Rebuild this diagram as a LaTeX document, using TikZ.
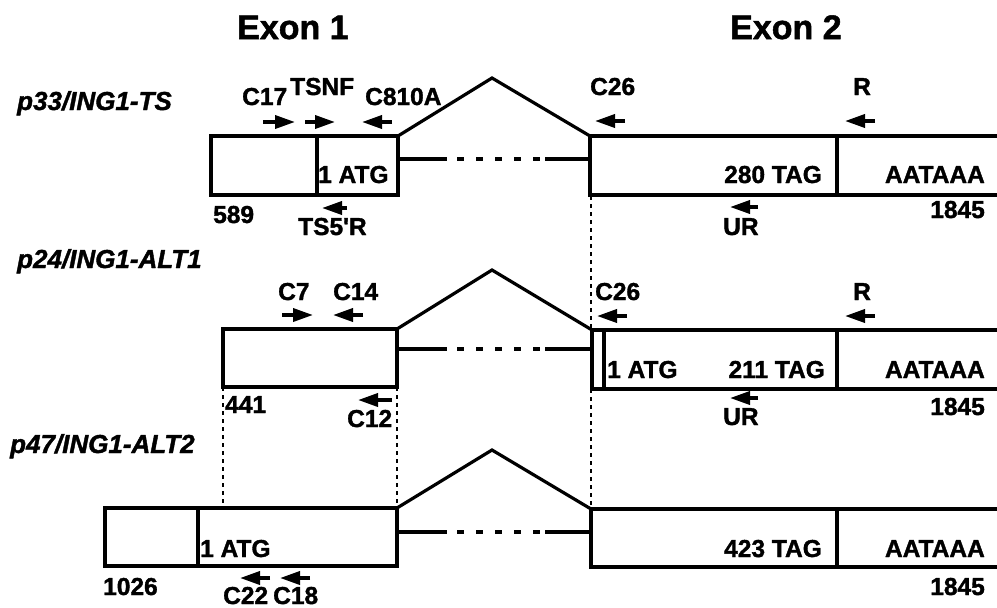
\documentclass[tikz,border=0pt]{standalone}
\usepackage{fontspec}
\setmainfont{Liberation Sans}[BoldFeatures={FakeBold=1.5}, BoldItalicFeatures={FakeBold=1.5}]
\usetikzlibrary{arrows.meta}

\begin{document}
\begin{tikzpicture}[x=1pt, y=-1pt,
    exonbox/.style={line width=3.4pt},
    intron/.style={line width=3.2pt},
    guide/.style={line width=1.4pt, dash pattern=on 4pt off 4pt},
    primer/.style={line width=3.6pt, -{Triangle[length=20pt,width=13pt]}},
    lbl/.style={inner sep=0pt, anchor=base west, font=\fontsize{24.5}{24.5}\selectfont\bfseries},
    lble/.style={lbl, anchor=base east},
    title/.style={inner sep=0pt, anchor=base west, font=\fontsize{34}{34}\selectfont\bfseries},
    rowname/.style={inner sep=0pt, anchor=base west, font=\fontsize{26}{26}\selectfont\bfseries\itshape}]
    \useasboundingbox (0,0) rectangle (997,608);

    \node[title] (ex1) at (237,39) {Exon 1};
    \node[title] (ex2) at (730,39) {Exon 2};

    % p33/ING1-TS
    \node[rowname] (ts) at (17,110) {p33/ING1-TS};
    \draw[exonbox] (211,136) rectangle (398,195);
    \draw[exonbox] (317,136) -- (317,195);
    \draw[exonbox] (997,136) -- (590,136) -- (590,195) -- (997,195);
    \draw[exonbox] (837,136) -- (837,195);
    \coordinate (tsa) at (398,136);
    \coordinate (tsp) at (492,78);
    \coordinate (tsb) at (590,136);
    \draw[intron] (tsa) -- (tsp) -- (tsb);
    \draw[intron] (398,159) -- (447,159);
    \draw[intron, dash pattern=on 7pt off 12pt] (457,159) -- (540,159);
    \draw[intron] (545,159) -- (590,159);
    \draw[primer] (263,122) -- (295,122);
    \draw[primer] (305,122) -- (335,122);
    \draw[primer] (392,122) -- (362,122);
    \draw[primer] (347,208) -- (322,208);
    \draw[primer] (625,121) -- (595,121);
    \draw[primer] (875,121) -- (845,121);
    \draw[primer] (758,207) -- (730,207);
    \node[lbl] (c17) at (242,105) {C17};
    \node[lbl] (tsnf) at (290,95) {TSNF};
    \node[lbl] (c810a) at (365,105) {C810A};
    \node[lbl] (atgA) at (318,183) {1 ATG};
    \node[lbl] (n589) at (213,223) {589};
    \node[lbl] (ts5r) at (298,235) {TS5\textquotesingle R};
    \node[lbl] (c26A) at (590,95) {C26};
    \node[lbl] (rA) at (853,95) {R};
    \node[lble] (tagA) at (822,183) {280 TAG};
    \node[lble] (polyA) at (985,183) {AATAAA};
    \node[lble] (endA) at (985,218) {1845};
    \node[lbl] (urA) at (723,235) {UR};

    % p24/ING1-ALT1
    \node[rowname] (alt1) at (17,268) {p24/ING1-ALT1};
    \draw[exonbox] (223,329) rectangle (397,387);
    \draw[exonbox] (997,330) -- (592,330) -- (592,389) -- (997,389);
    \draw[exonbox] (604,330) -- (604,389);
    \draw[exonbox] (837,330) -- (837,389);
    \coordinate (aa) at (397,329);
    \coordinate (ap) at (492,270);
    \coordinate (ab) at (592,330);
    \draw[intron] (aa) -- (ap) -- (ab);
    \draw[intron] (397,349) -- (447,349);
    \draw[intron, dash pattern=on 7pt off 12pt] (457,349) -- (540,349);
    \draw[intron] (545,349) -- (592,349);
    \draw[primer] (282,315) -- (313,315);
    \draw[primer] (363,315) -- (333,315);
    \draw[primer] (392,400) -- (358,400);
    \draw[primer] (627,316) -- (597,316);
    \draw[primer] (875,316) -- (845,316);
    \draw[primer] (758,398) -- (730,398);
    \node[lbl] (c7) at (278,300) {C7};
    \node[lbl] (c14) at (333,300) {C14};
    \node[lbl] (n441) at (225,413) {441};
    \node[lbl] (c12) at (347,427) {C12};
    \node[lbl] (c26B) at (595,300) {C26};
    \node[lbl] (rB) at (853,300) {R};
    \node[lbl] (atgB) at (607,378) {1 ATG};
    \node[lble] (tagB) at (825,378) {211 TAG};
    \node[lble] (polyB) at (985,378) {AATAAA};
    \node[lble] (endB) at (985,415) {1845};
    \node[lbl] (urB) at (723,425) {UR};

    % p47/ING1-ALT2
    \node[rowname] (alt2) at (10,453) {p47/ING1-ALT2};
    \draw[exonbox] (105,508) rectangle (397,566);
    \draw[exonbox] (198,508) -- (198,566);
    \draw[exonbox] (997,509) -- (591,509) -- (591,567) -- (997,567);
    \draw[exonbox] (837,509) -- (837,567);
    \coordinate (ba) at (397,508);
    \coordinate (bp) at (492,450);
    \coordinate (bb) at (591,509);
    \draw[intron] (ba) -- (bp) -- (bb);
    \draw[intron] (397,532) -- (447,532);
    \draw[intron, dash pattern=on 7pt off 12pt] (457,532) -- (540,532);
    \draw[intron] (545,532) -- (591,532);
    \draw[primer] (270,578) -- (240,578);
    \draw[primer] (310,578) -- (280,578);
    \node[lbl] (atgC) at (200,557) {1 ATG};
    \node[lbl] (n1026) at (103,595) {1026};
    \node[lbl] (c22) at (223,604) {C22};
    \node[lbl] (c18) at (273,604) {C18};
    \node[lble] (tagC) at (822,557) {423 TAG};
    \node[lble] (polyC) at (985,557) {AATAAA};
    \node[lble] (endC) at (985,595) {1845};

    % alignment guides
    \draw[guide] (591,196) -- (591,330);
    \draw[guide] (591,389) -- (591,509);
    \draw[guide] (223,387) -- (223,508);
    \draw[guide] (397,387) -- (397,508);
\end{tikzpicture}
\end{document}
